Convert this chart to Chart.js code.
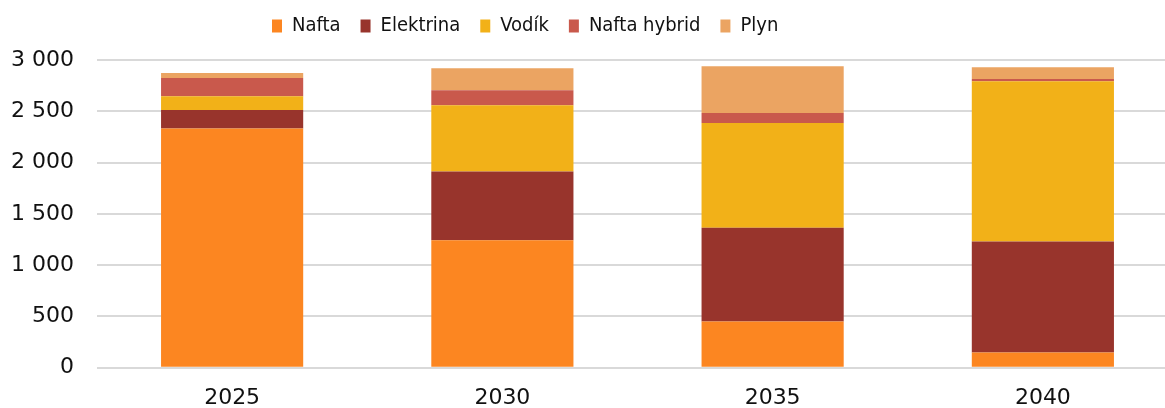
<!DOCTYPE html>
<html lang="cs">
<head>
<meta charset="utf-8">
<title>Pohony</title>
<script src="https://cdn.jsdelivr.net/npm/chart.js"></script>
<style>
  html, body { margin: 0; padding: 0; background: #fff; overflow: hidden; }
  #grafikAlani { width: 1180px; height: 408px; }
</style>
</head>
<body>
<div id="grafikAlani"><canvas id="graf"></canvas></div>
<script>
// Data
const roky = ['2025', '2030', '2035', '2040'];
const nafta = [2332, 1243, 450, 148];
const elektrina = [181, 670, 914, 1083];
const vodik = [133, 646, 1022, 1561];
const naftaHybrid = [179, 146, 98, 23];
const plyn = [48, 214, 455, 114];
const osaYMax = 3000;
const osaYKrok = 500;

const serie = [
  { nazev: 'Nafta', hodnoty: nafta, barva: '#FC8621' },
  { nazev: 'Elektrina', hodnoty: elektrina, barva: '#98342C' },
  { nazev: 'Vodík', hodnoty: vodik, barva: '#F2B118' },
  { nazev: 'Nafta hybrid', hodnoty: naftaHybrid, barva: '#C9594C' },
  { nazev: 'Plyn', hodnoty: plyn, barva: '#EBA462' }
];

// mezera jako oddělovač tisíců (3 000)
function formatCislo(v) {
  return String(v).replace(/\B(?=(\d{3})+(?!\d))/g, ' ');
}

// posune legendu na místo jako v originále
const posunLegendy = {
  id: 'posunLegendy',
  afterLayout(chart) {
    const lg = chart.legend;
    if (!lg) return;
    const dx = 252 - lg.left;
    lg.left += dx;
    lg.right += dx;
    lg.top = -4;
  }
};

const ctx = document.getElementById('graf').getContext('2d');
new Chart(ctx, {
  type: 'bar',
  data: {
    labels: roky,
    datasets: serie.map(s => ({
      label: s.nazev,
      data: s.hodnoty,
      backgroundColor: s.barva,
      borderWidth: 0,
      categoryPercentage: 1,
      barPercentage: 0.526
    }))
  },
  options: {
    responsive: true,
    maintainAspectRatio: false,
    animation: false,
    layout: { padding: { top: 10, right: 2, left: 0, bottom: 0 } },
    plugins: {
      tooltip: { enabled: false },
      legend: {
        position: 'top',
        align: 'start',
        labels: {
          boxWidth: 10,
          boxHeight: 13,
          padding: 20,
          color: '#111',
          font: { family: '"DejaVu Sans Condensed", "Liberation Sans Narrow", sans-serif', size: 20 }
        }
      }
    },
    scales: {
      x: {
        stacked: true,
        grid: { display: false },
        border: { display: false },
        ticks: {
          color: '#111',
          padding: 9,
          font: { family: '"DejaVu Sans", sans-serif', size: 22 }
        },
        afterFit(scale) { scale.height = 40.3; }
      },
      y: {
        stacked: true,
        min: 0,
        max: osaYMax,
        border: { display: false },
        grid: { color: '#d9d9d9', lineWidth: 2, drawTicks: false },
        ticks: {
          stepSize: osaYKrok,
          color: '#111',
          padding: 23,
          font: { family: '"DejaVu Sans", sans-serif', size: 22 },
          callback: v => formatCislo(v)
        },
        afterFit(scale) { scale.width = 97; }
      }
    }
  },
  plugins: [posunLegendy]
});
</script>
</body>
</html>
